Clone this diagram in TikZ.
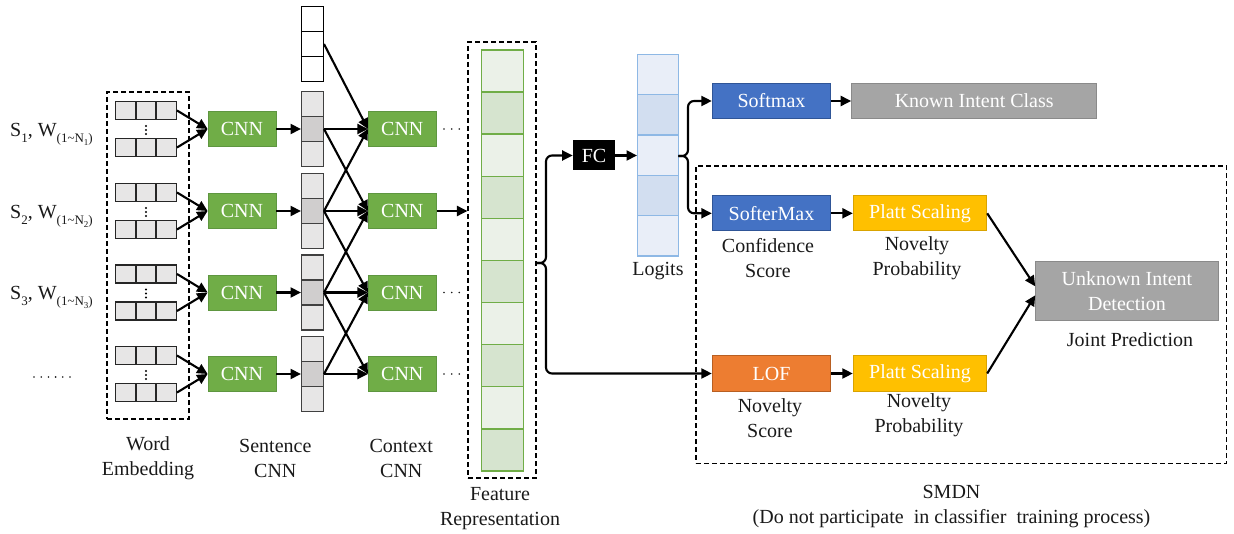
\documentclass[tikz,border=0pt]{standalone}
\usepackage{fontspec}
\setmainfont{Liberation Serif}
\usetikzlibrary{arrows.meta}
\definecolor{cgreen}{HTML}{70AD47}
\definecolor{cgreenD}{HTML}{5E9640}
\definecolor{egray}{HTML}{E7E6E6}
\definecolor{mgray}{HTML}{D0CECE}
\definecolor{fl}{HTML}{EBF1E8}
\definecolor{fd}{HTML}{D6E4CF}
\definecolor{ll}{HTML}{E9EEF8}
\definecolor{ld}{HTML}{D2DEF0}
\definecolor{lblue}{HTML}{8EB8E5}
\definecolor{cblue}{HTML}{4472C4}
\definecolor{cblueD}{HTML}{2F5597}
\definecolor{cgrey}{HTML}{A5A5A5}
\definecolor{cgreyD}{HTML}{8A8A8A}
\definecolor{corange}{HTML}{ED7D31}
\definecolor{corangeD}{HTML}{B85F22}
\definecolor{cyellow}{HTML}{FFC000}
\definecolor{cyellowD}{HTML}{D9A300}
\definecolor{ink}{HTML}{1A1A1A}
\newcommand{\mysub}[1]{\raisebox{-0.3em}{\fontsize{13}{13}\selectfont #1}}
\newcommand{\mysubsub}[1]{\raisebox{-0.2em}{\fontsize{9}{9}\selectfont #1}}
\begin{document}
\begin{tikzpicture}[x=1pt,y=-1pt,
  font=\fontsize{20}{25}\selectfont, text=ink,
  arr/.style={-{Triangle[length=10.5pt,width=10pt]}, line width=2.1pt, draw=black},
  cnn/.style={rectangle, fill=cgreen, draw=cgreenD, line width=0.8pt, text=white, minimum width=68pt, minimum height=35pt, inner sep=0pt},
  ecell/.style={rectangle, fill=egray, draw=black!85, line width=1.4pt, minimum width=20.2pt, minimum height=18pt, inner sep=0pt},
  vcell/.style={rectangle, fill=egray, draw=black!75, line width=1.4pt, minimum width=21.6pt, minimum height=25pt, inner sep=0pt},
  fcell/.style={rectangle, draw=cgreen, line width=1.4pt, minimum width=41.6pt, minimum height=42.1pt, inner sep=0pt},
  lcell/.style={rectangle, draw=lblue, line width=1.4pt, minimum width=40.6pt, minimum height=40.34pt, inner sep=0pt},
  dbox/.style={rectangle, draw=black, dash pattern=on 5pt off 3pt, line width=1.1pt, inner sep=0pt},
  cbox/.style={rectangle, text=white, line width=1pt, minimum height=35.4pt, inner sep=0pt},
  lbl/.style={align=center, inner sep=0pt},
]
\useasboundingbox (0,0) rectangle (1234,534);

% dashed containers
\node[dbox, minimum width=82pt, minimum height=327pt] (wordbox) at (148,255.5) {};
\node[dbox, minimum width=68pt, minimum height=436pt] (featbox) at (502,260) {};
\node[dbox, minimum width=530.7pt, minimum height=297.3pt] (smdnbox) at (961.3,314.7) {};

% top white vector
\node[vcell, fill=white, draw=black] (wa) at (312.5,19) {};
\node[vcell, fill=white, draw=black] (wm) at (312.5,44) {};
\node[vcell, fill=white, draw=black] (wb) at (312.5,69) {};

% rows
\foreach \c [count=\i] in {129,211,292.5,374}{
  \node[cnn] (s\i) at (242,\c) {CNN};
  \node[cnn] (c\i) at (402.3,\c) {CNN};
  \foreach \k/\dy in {t/-18.5,b/18.5}{
    \foreach \j in {1,2,3}{
      \node[ecell] (e\i\k\j) at ({105.6+20.2*\j},{\c+\dy}) {};
    }
    \draw[arr] (e\i\k3.east) -- (s\i.west);
  }
  \foreach \d in {-4,0,4}{\fill[black] (146,{\c+1+\d}) circle (1.1pt);}
  \node[vcell] (va\i) at (312.5,{\c-25}) {};
  \node[vcell, fill=mgray] (vm\i) at (312.5,\c) {};
  \node[vcell] (vb\i) at (312.5,{\c+25}) {};
  \draw[arr] (s\i.east) -- (vm\i.west);
}

% input labels
\node[anchor=base west, inner sep=0pt] (in1) at (10,136.5) {S\mysub{1}, W\mysub{(1\textasciitilde N\mysubsub{1})}};
\node[anchor=base west, inner sep=0pt] (in2) at (10,218.5) {S\mysub{2}, W\mysub{(1\textasciitilde N\mysubsub{2})}};
\node[anchor=base west, inner sep=0pt] (in3) at (10,300) {S\mysub{3}, W\mysub{(1\textasciitilde N\mysubsub{3})}};
\foreach \k in {0,...,5}{\fill[ink] ({34+7.2*\k},377) circle (0.9pt);}

% context connections
\draw[arr] (wm.east) -- (c1.west);
\draw[arr] (vm1.east) -- (c1.west);
\draw[arr] (vm1.east) -- (c2.west);
\draw[arr] (vm2.east) -- (c1.west);
\draw[arr] (vm2.east) -- (c2.west);
\draw[arr] (vm2.east) -- (c3.west);
\draw[arr] (vm3.east) -- (c2.west);
\draw[arr] (vm3.east) -- (c3.west);
\draw[arr] (vm3.east) -- (c4.west);
\draw[arr] (vm4.east) -- (c3.west);
\draw[arr] (vm4.east) -- (c4.west);

% dots after context CNNs
\foreach \y in {129,292.5,374}{
  \foreach \x in {444,451.7,459.3}{\fill[ink] (\x,\y) circle (0.85pt);}
}
\draw[arr] (c2.east) -- (c2.east -| featbox.west);

% feature vector
\foreach \k/\col in {1/fl,2/fd,3/fl,4/fd,5/fl,6/fd,7/fl,8/fd,9/fl,10/fd}{
  \node[fcell, fill=\col] (f\k) at (502.5,{50+42.1*(\k-0.5)}) {};
}

% FC and logits
\node[rectangle, fill=black, text=white, minimum width=42.3pt, minimum height=30pt, inner sep=0pt] (fc) at (594,155.5) {FC};
\foreach \k/\col in {1/ll,2/ld,3/ll,4/ld,5/ll}{
  \node[lcell, fill=\col] (l\k) at (658,{54.3+40.34*(\k-0.5)}) {};
}
\node[lbl] (logits) at (658,271) {Logits};
\draw[arr] (fc.east) -- (fc.east -| l3.west);

% right boxes
\node[cbox, fill=cblue, draw=cblueD, minimum width=118.4pt] (softmax) at (771.5,101) {Softmax};
\node[cbox, fill=cgrey, draw=cgreyD, minimum width=245pt] (known) at (974.2,101) {Known Intent Class};
\node[cbox, fill=cblue, draw=cblueD, minimum width=118.4pt] (softer) at (771.5,213.3) {SofterMax};
\node[cbox, fill=cyellow, draw=cyellowD, minimum width=133.4pt] (platt1) at (920,213.3) {Platt Scaling};
\node[cbox, fill=corange, draw=corangeD, minimum width=118.4pt] (lof) at (771.5,373.5) {LOF};
\node[cbox, fill=cyellow, draw=cyellowD, minimum width=133.4pt] (platt2) at (920,373.5) {Platt Scaling};
\node[cbox, fill=cgrey, draw=cgreyD, minimum width=182.6pt, minimum height=59.3pt, align=center] (unknown) at (1127,291.3) {Unknown Intent\\Detection};

\draw[arr] (softmax.east) -- (known.west);
\draw[arr] (softer.east) -- (platt1.west);
\draw[arr] (lof.east) -- (platt2.west);
\draw[arr] (platt1.east) -- ([yshift=5pt]unknown.west);
\draw[arr] (platt2.east) -- ([yshift=-4pt]unknown.west);

% braces
\coordinate (ftip) at (536,263);
\coordinate (fup) at (546,155.5);
\coordinate (fdn) at (546,373.5);
\draw[arr, rounded corners=6pt] (ftip) -| (fup) -- (fc.west);
\draw[arr, rounded corners=6pt] (ftip) -| (fdn) -- (lof.west);
\coordinate (ltip) at (678.3,156);
\coordinate (lup) at (688,101);
\coordinate (ldn) at (688,213.3);
\draw[arr, rounded corners=6pt] (ltip) -| (lup) -- (softmax.west);
\draw[arr, rounded corners=6pt] (ltip) -| (ldn) -- (softer.west);

% labels
\node[lbl] (lconf) at (768,258) {Confidence\\Score};
\node[lbl] (lnp1) at (917,258) {Novelty\\Probability};
\node[lbl] (lns) at (770,418) {Novelty\\Score};
\node[lbl] (lnp2) at (919,415) {Novelty\\Probability};
\node[lbl] (ljoint) at (1130,340) {Joint Prediction};
\node[lbl] (lword) at (148,458) {Word\\Embedding};
\node[lbl] (lsent) at (275.3,458) {Sentence\\CNN};
\node[lbl] (lctx) at (401.3,458) {Context\\CNN};
\node[lbl] (lfeat) at (500,508.5) {Feature\\Representation};
\node[lbl] (lsmdn) at (951.5,506.5) {SMDN\\(Do not participate\ \ in classifier\ \ training process)};
\end{tikzpicture}
\end{document}
